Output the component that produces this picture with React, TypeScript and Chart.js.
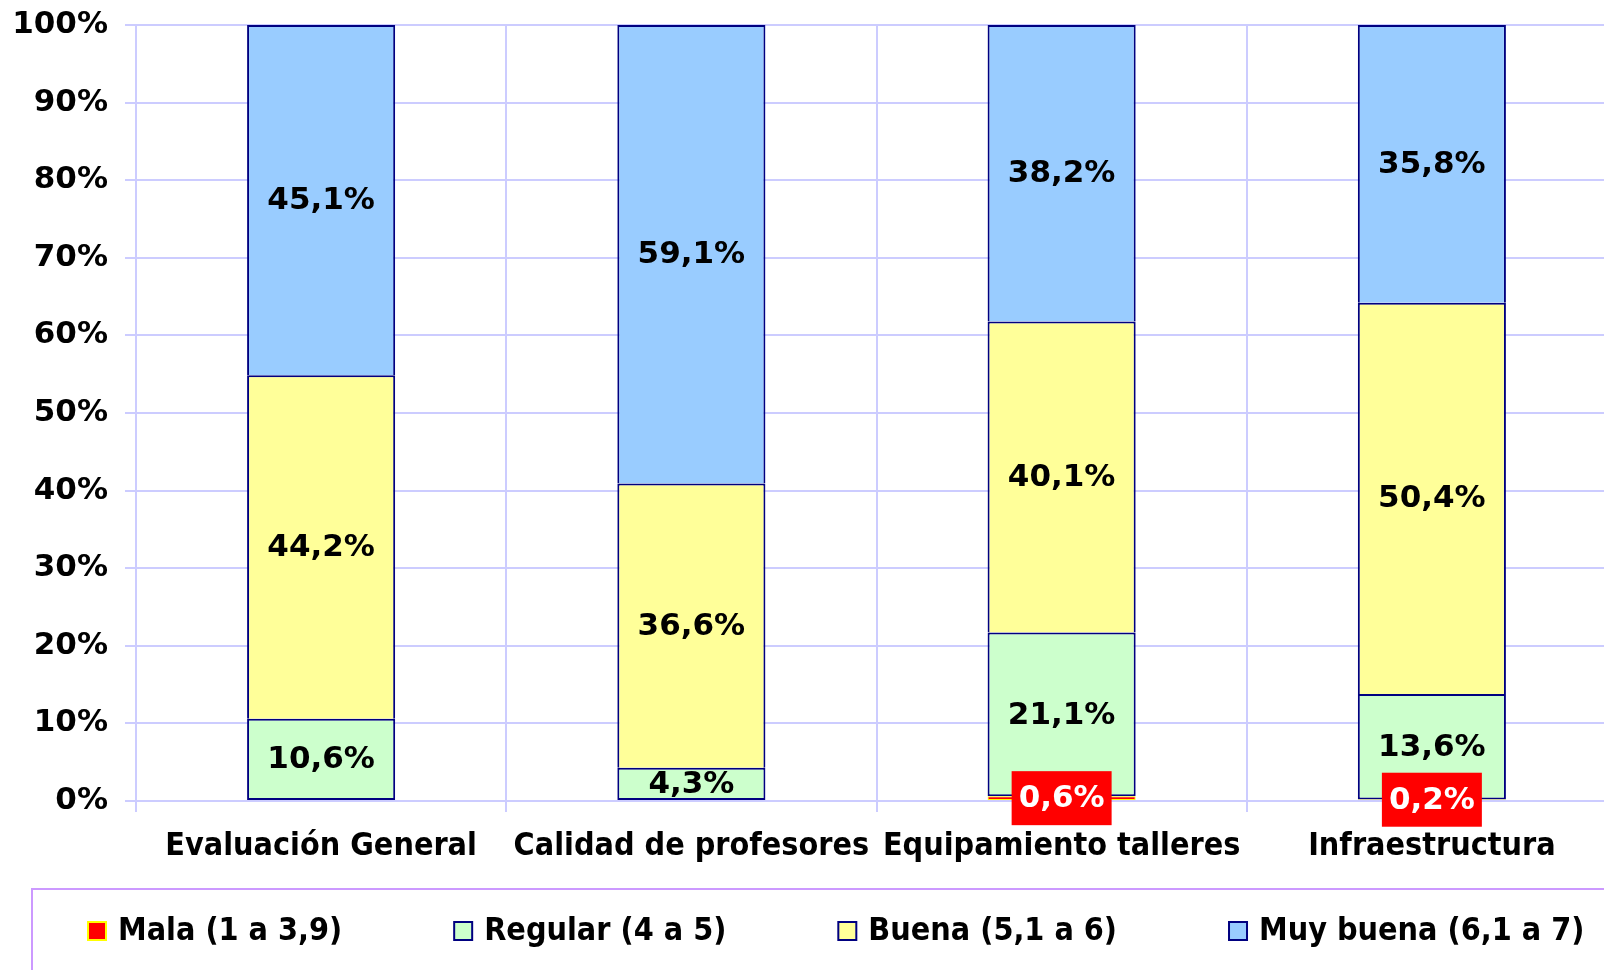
import React, { useEffect, useRef } from "react";
import { Chart, registerables } from "chart.js";

Chart.register(...registerables);

const categories = ["Evaluación General", "Calidad de profesores", "Equipamiento talleres", "Infraestructura"];
const seriesNames = ["Mala (1 a 3,9)", "Regular (4 a 5)", "Buena (5,1 a 6)", "Muy buena (6,1 a 7)"];
const mala = [0, 0, 0.6, 0.2];
const regular = [10.6, 4.3, 21.1, 13.6];
const buena = [44.2, 36.6, 40.1, 50.4];
const muyBuena = [45.1, 59.1, 38.2, 35.8];
const yMin = 0;
const yMax = 100;
const yStep = 10;

const rawSeries = [mala, regular, buena, muyBuena];
const fills = ["#FF0000", "#CCFFCC", "#FFFF99", "#99CCFF"];
const borders = ["#FFFF00", "#000080", "#000080", "#000080"];
const borderWidths: any[] = [
  1,
  { left: 2, right: 2, top: 2, bottom: 2 },
  { left: 2, right: 2, top: 2, bottom: 0 },
  { left: 2, right: 2, top: 2, bottom: 0 },
];

const WIDE = '"DejaVu Sans", sans-serif';
const COND = '"DejaVu Sans Condensed", "DejaVu Sans", sans-serif';
const GRID = "#CCCCFF";

const fmt = (v: number) => v.toFixed(1).replace(".", ",") + "%";

const labelPlugin = {
  id: "segLabels",
  afterDatasetsDraw(chart: any) {
    const ctx = chart.ctx;
    ctx.save();
    ctx.font = `bold 31px ${WIDE}`;
    ctx.textAlign = "center";
    ctx.textBaseline = "middle";
    [1, 2, 3, 0].forEach((di) => {
      const meta = chart.getDatasetMeta(di);
      const raw = rawSeries[di];
      meta.data.forEach((bar: any, i: number) => {
        const v = raw[i];
        if (!v) return;
        const { x, y, base } = bar.getProps(["x", "y", "base"], true);
        const cy = (y + base) / 2;
        const txt = fmt(v);
        if (di === 0) {
          const w = ctx.measureText(txt).width + 14;
          const h = 54;
          ctx.fillStyle = "#FF0000";
          ctx.fillRect(x - w / 2, cy - h / 2, w, h);
          ctx.fillStyle = "#FFFFFF";
        } else {
          ctx.fillStyle = "#000000";
        }
        ctx.fillText(txt, x, cy + 1);
      });
    });
    ctx.restore();
  },
};

const legendPlugin = {
  id: "boxLegend",
  afterDraw(chart: any) {
    const ctx = chart.ctx;
    ctx.save();
    ctx.strokeStyle = "#CC99FF";
    ctx.lineWidth = 2;
    ctx.strokeRect(32, 889, 2000, 300);
    ctx.font = `bold 32px ${COND}`;
    ctx.textAlign = "left";
    ctx.textBaseline = "middle";
    let x = 88;
    const cy = 931;
    seriesNames.forEach((name, i) => {
      const s = 18;
      ctx.fillStyle = fills[i];
      ctx.fillRect(x, cy - s / 2, s, s);
      ctx.strokeStyle = borders[i];
      ctx.lineWidth = 2;
      ctx.strokeRect(x, cy - s / 2, s, s);
      ctx.fillStyle = "#000000";
      ctx.fillText(name, x + 30, cy + 1);
      x += 30 + ctx.measureText(name).width + 112;
    });
    ctx.restore();
  },
};

export default function App() {
  const ref = useRef<HTMLCanvasElement>(null);
  useEffect(() => {
    document.documentElement.style.overflow = "hidden";
    document.body.style.overflow = "hidden";
    document.body.style.margin = "0";
    const sums = categories.map((_, i) => rawSeries.reduce((a, s) => a + s[i], 0));
    const chart = new Chart(ref.current!, {
      type: "bar",
      data: {
        labels: categories,
        datasets: rawSeries.map((s, di) => ({
          label: seriesNames[di],
          data: s.map((v, i) => (v / sums[i]) * 100),
          backgroundColor: fills[di],
          borderColor: borders[di],
          borderWidth: borderWidths[di],
          borderSkipped: false,
          categoryPercentage: 0.8,
          barPercentage: 0.5,
        })),
      },
      options: {
        responsive: false,
        animation: false,
        devicePixelRatio: 1,
        layout: { padding: { top: 25, right: 3, left: 0, bottom: 0 } },
        plugins: { legend: { display: false }, tooltip: { enabled: false } },
        scales: {
          x: {
            stacked: true,
            grid: { color: GRID, lineWidth: 2, offset: true, tickLength: 11 },
            border: { color: GRID, width: 2 },
            ticks: {
              color: "#000000",
              font: { family: COND, size: 32, weight: "bold" },
              padding: 15,
              autoSkip: false,
              maxRotation: 0,
              minRotation: 0,
            },
            afterFit: (scale: any) => {
              scale.height = 169;
              scale.paddingLeft = 0;
              scale.paddingRight = 0;
            },
          },
          y: {
            stacked: true,
            min: yMin,
            max: yMax,
            grid: { color: GRID, lineWidth: 2, tickLength: 11 },
            border: { color: GRID, width: 2 },
            ticks: {
              stepSize: yStep,
              color: "#000000",
              font: { family: WIDE, size: 31, weight: "bold" },
              padding: 17,
              callback: (v: any) => v + "%",
            },
            afterFit: (scale: any) => {
              scale.width = 136;
              scale.paddingTop = 0;
              scale.paddingBottom = 0;
            },
          },
        },
      },
      plugins: [labelPlugin, legendPlugin],
    } as any);
    return () => chart.destroy();
  }, []);
  return (
    <div style={{ position: "fixed", left: 0, top: 0, width: 1620, height: 970, overflow: "hidden", background: "#fff" }}>
      <canvas ref={ref} width={1620} height={970} style={{ display: "block" }} />
    </div>
  );
}
